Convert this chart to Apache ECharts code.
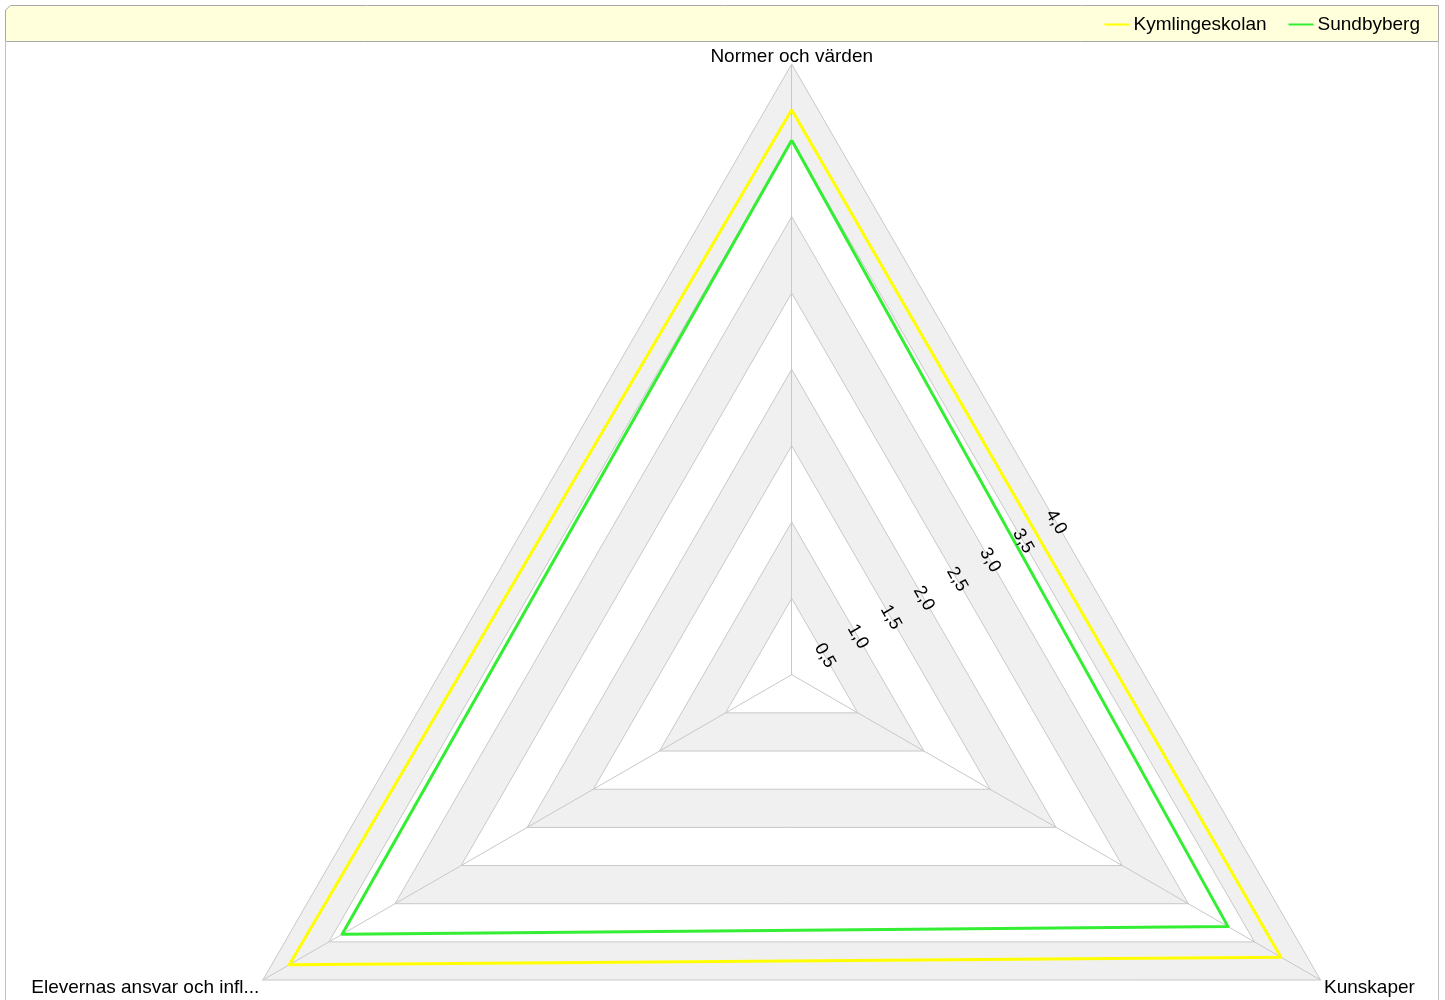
<!DOCTYPE html>
<html>
<head>
<meta charset="utf-8">
<script src="https://cdn.jsdelivr.net/npm/echarts@6/dist/echarts.min.js"></script>
<style>
html,body{margin:0;padding:0;background:#fff;}
#chart{width:1445px;height:1000px;}
</style>
</head>
<body>
<div id="chart"></div>
<script>
const indicators = ['Normer och värden', 'Elevernas ansvar och infl...', 'Kunskaper'];
const seriesNames = ['Kymlingeskolan', 'Sundbyberg'];
const kymlingeskolan = [3.7, 3.8, 3.7];
const sundbyberg = [3.5, 3.4, 3.3];
const tickLabels = ['0,5', '1,0', '1,5', '2,0', '2,5', '3,0', '3,5', '4,0'];
const axisMax = 4;
const axisStep = 0.5;

const FONT = 'Liberation Sans, Arial, sans-serif';
const CX = 791.7, CY = 674.7, R = 610.7;

const chart = echarts.init(document.getElementById('chart'));
chart.setOption({
  animation: false,
  color: ['#ffff00', '#33ee33'],
  textStyle: { fontFamily: FONT },
  graphic: [
    { type: 'polygon', z: 0, shape: { points: [[5.5, 10], [10.5, 5.5], [1438.5, 5.5], [1438.5, 41.5], [5.5, 41.5]] },
      style: { fill: '#ffffdc', stroke: '#a8a8a8', lineWidth: 1 } },
    { type: 'line', z: 0, shape: { x1: 5.5, y1: 41.5, x2: 5.5, y2: 1000 }, style: { stroke: '#c0c0c0', lineWidth: 1 } },
    { type: 'line', z: 0, shape: { x1: 1438.5, y1: 41.5, x2: 1438.5, y2: 1000 }, style: { stroke: '#c0c0c0', lineWidth: 1 } }
  ],
  legend: {
    right: 20,
    top: 10,
    z: 5,
    icon: 'rect',
    itemWidth: 25,
    itemHeight: 2,
    itemGap: 22,
    data: seriesNames,
    textStyle: { fontSize: 19, color: '#000', fontFamily: FONT, padding: [0, 0, 0, -1] }
  },
  radar: {
    center: [CX, CY],
    radius: R,
    startAngle: 90,
    min: 0,
    max: axisMax,
    splitNumber: axisMax / axisStep,
    indicator: indicators.map(n => ({ name: n, min: 0, max: axisMax })),
    axisName: { color: '#000', fontSize: 19, fontFamily: FONT, lineHeight: 6, formatter: n => '\n\n' + n },
    nameGap: 4,
    axisLine: { lineStyle: { color: '#c8c8c8', width: 1 } },
    splitLine: { lineStyle: { color: '#c8c8c8', width: 1 } },
    splitArea: { show: true, areaStyle: { color: ['#ffffff', '#f0f0f0'] } },
    axisLabel: { show: false }
  },
  polar: { center: [CX, CY], radius: R / 2 },
  angleAxis: { show: false, startAngle: 30, min: 0, max: 360 },
  radiusAxis: {
    min: 0,
    max: axisMax,
    interval: axisStep,
    z: 3,
    axisLine: { show: false },
    axisTick: { show: false },
    splitLine: { show: false },
    axisLabel: {
      show: true,
      showMinLabel: false,
      rotate: -60,
      margin: 0,
      align: 'center',
      verticalAlign: 'middle',
      fontSize: 18,
      color: '#000',
      fontFamily: FONT,
      formatter: v => {
        const i = Math.round(v / axisStep) - 1;
        return i >= 0 && i < tickLabels.length ? tickLabels[i] : '';
      }
    }
  },
  series: [{
    type: 'radar',
    symbol: 'none',
    lineStyle: { width: 3 },
    data: [
      { name: seriesNames[0], value: kymlingeskolan },
      { name: seriesNames[1], value: sundbyberg }
    ]
  }]
});
</script>
</body>
</html>
